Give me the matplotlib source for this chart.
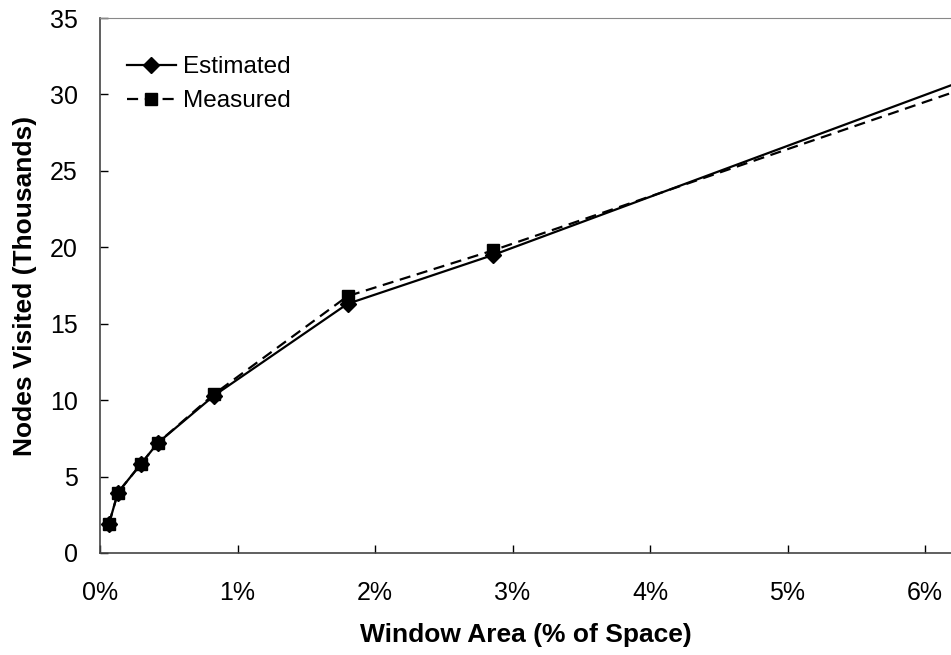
import matplotlib
matplotlib.use("Agg")
import matplotlib.pyplot as plt
from matplotlib.ticker import FuncFormatter

plt.rcParams['font.family'] = ['Liberation Sans', 'DejaVu Sans']

window_area = [0.065, 0.13, 0.30, 0.42, 0.83, 1.80, 2.86, 7.0]
estimated = [1.9, 3.95, 5.85, 7.2, 10.3, 16.3, 19.5, 33.3]
measured = [1.9, 3.95, 5.85, 7.2, 10.4, 16.8, 19.8, 32.6]
x_ticks = [0, 1, 2, 3, 4, 5, 6]
y_ticks = [0, 5, 10, 15, 20, 25, 30, 35]

fig = plt.figure(figsize=(9.51, 6.55), dpi=100)
ax = fig.add_axes([100/951, 1-553/655, 1-100/951, (553-18)/655])

ax.plot(window_area, estimated, color='black', lw=1.6, marker='D', ms=8,
        label='Estimated')
ax.plot(window_area, measured, color='black', lw=1.6, ls=(0, (5, 3)), marker='s', ms=8,
        label='Measured')

ax.set_xlim(0, (951-100)/137.5)
ax.set_ylim(0, 35)
ax.set_xticks(x_ticks)
ax.set_yticks(y_ticks)
ax.xaxis.set_major_formatter(FuncFormatter(lambda v, p: f"{int(v)}%"))
ax.tick_params(direction='in', length=6, width=1, labelsize=18)
ax.tick_params(axis='x', pad=20)
ax.tick_params(axis='y', pad=16)
ax.spines['right'].set_visible(False)
ax.spines['top'].set_color('#888888')
for s in ['left', 'bottom']:
    ax.spines[s].set_color('#444444')
    ax.spines[s].set_linewidth(1.2)

ax.set_xlabel('Window Area (% of Space)', fontsize=19, fontweight='bold', labelpad=13)
ax.set_ylabel('Nodes Visited (Thousands)', fontsize=19, fontweight='bold', labelpad=9)

ax.legend(loc='upper left', frameon=False, fontsize=17.5, handlelength=2.0,
          handletextpad=0.3, labelspacing=0.5, borderaxespad=0, borderpad=0,
          bbox_to_anchor=(27/851, (553-56)/535))

fig.savefig('out.png', dpi=100)
